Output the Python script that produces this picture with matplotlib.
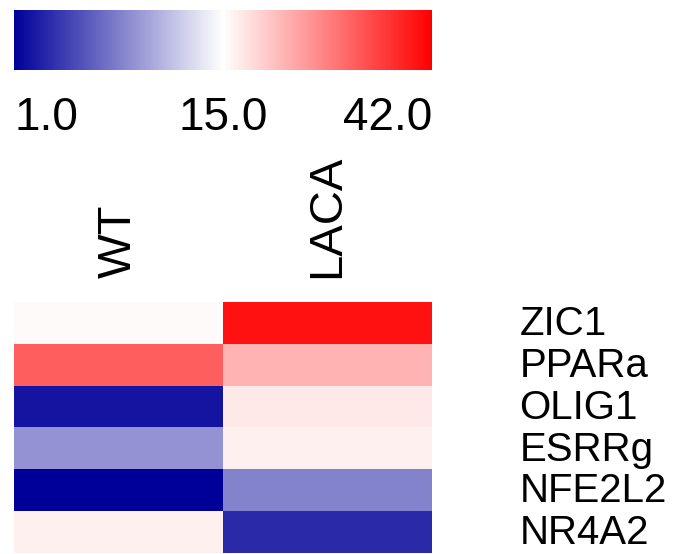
import numpy as np
import matplotlib
matplotlib.use("Agg")
import matplotlib.pyplot as plt
from matplotlib.colors import LinearSegmentedColormap, TwoSlopeNorm
from matplotlib.transforms import ScaledTranslation

plt.rcParams['font.family'] = ['Liberation Sans', 'DejaVu Sans']

genes = ['ZIC1', 'PPARa', 'OLIG1', 'ESRRg', 'NFE2L2', 'NR4A2']
samples = ['WT', 'LACA']
wt = [15.5, 32.0, 2.2, 9.1, 1.0, 16.5]
laca = [40.0, 23.0, 17.4, 16.6, 8.2, 3.3]
cbar_ticks = [1.0, 15.0, 42.0]
cbar_labels = ['1.0', '15.0', '42.0']

data = np.column_stack([wt, laca])
cmap = LinearSegmentedColormap.from_list('bwr2', ['#000099', '#ffffff', '#ff0000'])
norm = TwoSlopeNorm(vmin=1.0, vcenter=15.0, vmax=42.0)

W, H = 678, 554
fig = plt.figure(figsize=(W / 100, H / 100), dpi=100)

ax = fig.add_axes([14 / W, 1 / H, 418 / W, 251 / H])
im = ax.imshow(data, cmap=cmap, norm=norm, aspect='auto', interpolation='nearest')
ax.set_xticks(range(len(samples)))
ax.set_xticklabels(samples, rotation=90, fontsize=34, va='bottom')
ax.xaxis.tick_top()
ax.set_yticks(range(len(genes)))
ax.set_yticklabels(genes, fontsize=29)
ax.yaxis.tick_right()
ax.tick_params(axis='x', length=0, pad=17)
ax.tick_params(axis='y', length=0, pad=63)
shift = ScaledTranslation(0, 2 / 72, fig.dpi_scale_trans)
for lab in ax.get_yticklabels():
    lab.set_ha('left')
    lab.set_transform(lab.get_transform() + shift)
for s in ax.spines.values():
    s.set_visible(False)

cax = fig.add_axes([14 / W, 1 - 70 / H, 418 / W, 60 / H])
cb = fig.colorbar(im, cax=cax, orientation='horizontal')
cb.outline.set_visible(False)
cb.set_ticks(cbar_ticks)
cb.set_ticklabels(cbar_labels)
cax.tick_params(length=0, pad=19, labelsize=33)
labs = cax.get_xticklabels()
for lab, ha in zip(labs, ['left', 'center', 'right']):
    lab.set_ha(ha)

fig.savefig('out.png', dpi=100)
